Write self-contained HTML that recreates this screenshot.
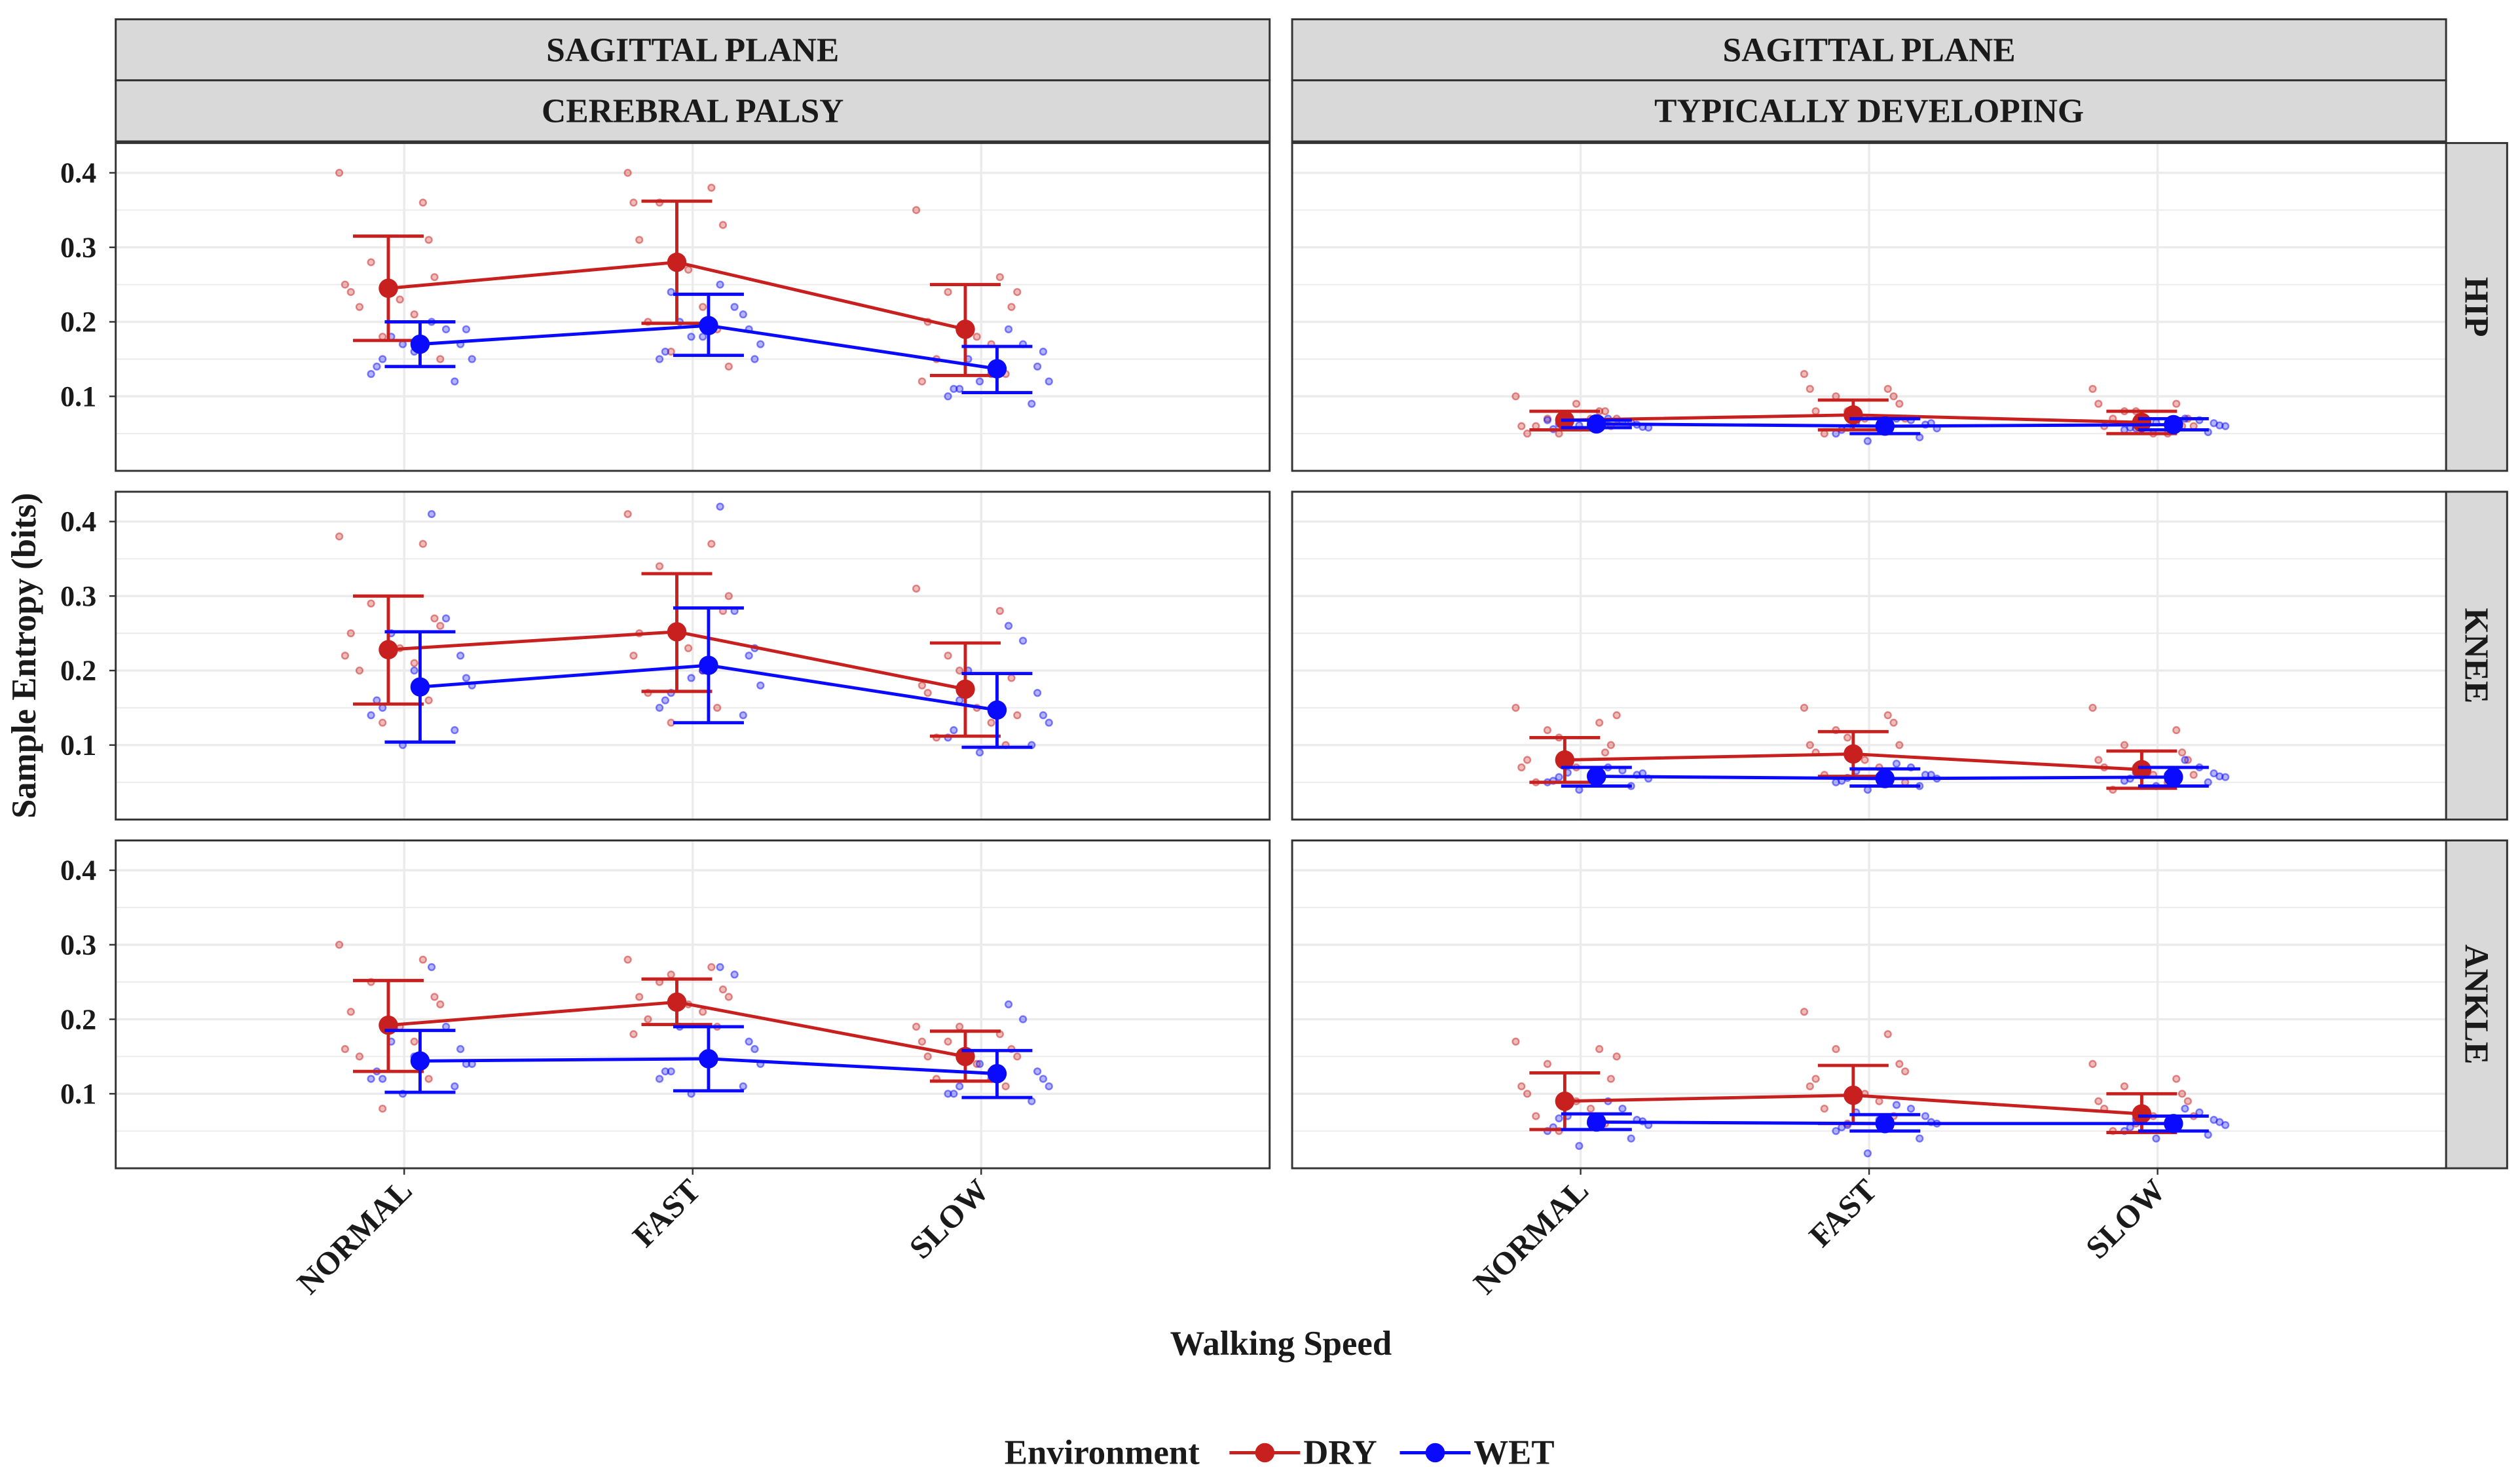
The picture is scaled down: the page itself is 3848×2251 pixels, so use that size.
<!DOCTYPE html>
<html><head><meta charset="utf-8"><style>
html,body{margin:0;padding:0;background:#fff;}
svg{display:block;}
text{font-family:"Liberation Serif",serif;font-weight:bold;fill:#1a1a1a;}
</style></head><body>
<svg id="chart" width="3848" height="2251" viewBox="0 0 1568 917.25" xmlns="http://www.w3.org/2000/svg">
<g id="g"></g>
</svg>
<script>
const categories = ["NORMAL","FAST","SLOW"];
const colLabels = ["CEREBRAL PALSY","TYPICALLY DEVELOPING"];
const rowLabels = ["HIP","KNEE","ANKLE"];
const yTicks = [0.1,0.2,0.3,0.4];
// panel order: [row][col]
const dryMean = [[[0.245,0.280,0.190],[0.068,0.075,0.065]],[[0.228,0.252,0.175],[0.080,0.088,0.067]],[[0.192,0.223,0.150],[0.090,0.098,0.073]]];
const dryLo   = [[[0.175,0.198,0.128],[0.055,0.055,0.050]],[[0.155,0.172,0.112],[0.050,0.058,0.042]],[[0.130,0.193,0.117],[0.052,0.060,0.048]]];
const dryHi   = [[[0.315,0.362,0.250],[0.080,0.095,0.080]],[[0.300,0.330,0.237],[0.110,0.118,0.092]],[[0.252,0.254,0.184],[0.128,0.138,0.100]]];
const wetMean = [[[0.170,0.195,0.137],[0.063,0.060,0.062]],[[0.178,0.207,0.147],[0.058,0.055,0.057]],[[0.144,0.147,0.127],[0.062,0.060,0.060]]];
const wetLo   = [[[0.140,0.155,0.105],[0.058,0.050,0.055]],[[0.104,0.130,0.097],[0.045,0.045,0.045]],[[0.102,0.104,0.095],[0.052,0.050,0.050]]];
const wetHi   = [[[0.200,0.237,0.167],[0.068,0.070,0.070]],[[0.252,0.284,0.196],[0.070,0.068,0.070]],[[0.185,0.190,0.158],[0.073,0.072,0.070]]];
const dryPts = [
 [[[0.40,0.36,0.28,0.26,0.24,0.23,0.21,0.22,0.31,0.18,0.15,0.25],[0.40,0.38,0.36,0.33,0.31,0.27,0.22,0.20,0.19,0.16,0.14,0.36],[0.35,0.26,0.24,0.22,0.20,0.18,0.17,0.15,0.13,0.19,0.24,0.12]],
  [[0.10,0.08,0.07,0.06,0.05,0.09,0.07,0.06,0.08,0.05,0.07,0.06],[0.13,0.11,0.10,0.09,0.08,0.07,0.06,0.05,0.10,0.08,0.07,0.11],[0.11,0.09,0.08,0.07,0.06,0.05,0.05,0.07,0.06,0.08,0.06,0.09]]],
 [[[0.38,0.37,0.29,0.27,0.25,0.23,0.21,0.20,0.16,0.13,0.26,0.22],[0.41,0.37,0.34,0.28,0.25,0.23,0.20,0.17,0.15,0.13,0.30,0.22],[0.31,0.28,0.22,0.19,0.17,0.15,0.13,0.11,0.10,0.20,0.14,0.18]],
  [[0.15,0.13,0.12,0.10,0.08,0.07,0.06,0.05,0.09,0.11,0.14,0.07],[0.15,0.14,0.12,0.10,0.09,0.08,0.07,0.06,0.13,0.11,0.05,0.10],[0.15,0.12,0.10,0.08,0.07,0.06,0.05,0.04,0.09,0.07,0.06,0.08]]],
 [[[0.30,0.28,0.25,0.23,0.21,0.19,0.17,0.15,0.12,0.08,0.22,0.16],[0.28,0.27,0.25,0.24,0.23,0.22,0.21,0.20,0.19,0.26,0.23,0.18],[0.19,0.18,0.17,0.16,0.15,0.14,0.13,0.12,0.11,0.19,0.15,0.17]],
  [[0.17,0.16,0.14,0.12,0.10,0.09,0.08,0.07,0.06,0.05,0.15,0.11],[0.21,0.18,0.16,0.14,0.12,0.10,0.09,0.08,0.07,0.06,0.13,0.11],[0.14,0.12,0.11,0.09,0.08,0.07,0.06,0.05,0.10,0.06,0.07,0.09]]]
];
const wetPts = [
 [[[0.20,0.19,0.18,0.17,0.16,0.15,0.14,0.13,0.12,0.17,0.19,0.15],[0.25,0.22,0.20,0.19,0.18,0.17,0.16,0.15,0.21,0.18,0.15,0.24],[0.19,0.17,0.15,0.14,0.13,0.12,0.11,0.10,0.09,0.12,0.16,0.11]],
  [[0.07,0.066,0.064,0.062,0.06,0.058,0.056,0.068,0.065,0.061,0.059,0.063],[0.07,0.068,0.065,0.062,0.06,0.057,0.055,0.05,0.045,0.04,0.064,0.058],[0.07,0.068,0.066,0.064,0.062,0.06,0.058,0.055,0.052,0.065,0.061,0.057]]],
 [[[0.41,0.27,0.25,0.22,0.20,0.18,0.16,0.14,0.12,0.10,0.19,0.15],[0.42,0.28,0.25,0.22,0.20,0.18,0.16,0.15,0.14,0.19,0.23,0.17],[0.26,0.24,0.20,0.17,0.15,0.13,0.12,0.11,0.10,0.09,0.14,0.16]],
  [[0.07,0.066,0.063,0.06,0.058,0.055,0.052,0.05,0.045,0.04,0.062,0.057],[0.075,0.07,0.065,0.06,0.058,0.055,0.052,0.05,0.045,0.04,0.06,0.056],[0.08,0.07,0.065,0.062,0.06,0.057,0.055,0.052,0.05,0.045,0.058,0.063]]],
 [[[0.27,0.19,0.17,0.16,0.15,0.14,0.13,0.12,0.11,0.10,0.14,0.12],[0.27,0.26,0.19,0.17,0.15,0.14,0.13,0.12,0.11,0.10,0.16,0.13],[0.22,0.20,0.15,0.13,0.12,0.11,0.10,0.10,0.09,0.14,0.12,0.11]],
  [[0.09,0.08,0.07,0.065,0.06,0.058,0.055,0.05,0.04,0.03,0.063,0.067],[0.085,0.08,0.075,0.07,0.065,0.06,0.055,0.05,0.04,0.02,0.062,0.058],[0.08,0.075,0.07,0.065,0.06,0.058,0.055,0.05,0.045,0.04,0.062,0.066]]]
];
const jit = [-0.17,0.12,-0.06,0.16,-0.13,0.04,0.09,-0.1,0.14,-0.02,0.18,-0.15];

const NS="http://www.w3.org/2000/svg";
const G=document.getElementById('g');
function mk(tag,attrs,parent){const e=document.createElementNS(NS,tag);for(const k in attrs)e.setAttribute(k,attrs[k]);(parent||G).appendChild(e);return e;}
const colX=[72,804], panelW=718;
const rowY=[89,306,523], panelH=204;
const RED="#c8201e", BLUE="#0a0aff";
function xs(c,pos){return colX[c]+pos/4*panelW;}
function ys(r,v){return rowY[r]+panelH-v/0.44*panelH;}

for(let c=0;c<2;c++){
  let s=mk('rect',{x:colX[c],y:12,width:panelW,height:38,fill:'#d9d9d9',stroke:'#333','stroke-width':1.2});
  
  let t=mk('text',{x:colX[c]+panelW/2,y:38,'text-anchor':'middle','font-size':21});t.textContent='SAGITTAL PLANE';
  
  let s2=mk('rect',{x:colX[c],y:50,width:panelW,height:38,fill:'#d9d9d9',stroke:'#333','stroke-width':1.2});
  
  let t2=mk('text',{x:colX[c]+panelW/2,y:76,'text-anchor':'middle','font-size':21});t2.textContent=colLabels[c];
  
}
for(let r=0;r<3;r++){
  let s=mk('rect',{x:1522,y:rowY[r],width:38,height:panelH,fill:'#d9d9d9',stroke:'#333','stroke-width':1.2});
  
  let cy=rowY[r]+panelH/2;
  let t=mk('text',{x:1534,y:cy,'text-anchor':'middle','font-size':21,transform:`rotate(90 1534 ${cy})`});t.textContent=rowLabels[r];
  
}
for(let r=0;r<3;r++)for(let c=0;c<2;c++){
  const pg=mk('g',{});
  
  
  mk('rect',{x:colX[c],y:rowY[r],width:panelW,height:panelH,fill:'#fff'},pg);
  for(let v=0.05;v<0.44;v+=0.05){mk('line',{x1:colX[c],x2:colX[c]+panelW,y1:ys(r,v),y2:ys(r,v),stroke:'#ebebeb','stroke-width':Math.round(v*100)%10===0?1.4:0.8},pg);}
  for(let i=0;i<3;i++){mk('line',{x1:xs(c,i+1),x2:xs(c,i+1),y1:rowY[r],y2:rowY[r]+panelH,stroke:'#ebebeb','stroke-width':1.4},pg);}
  for(let i=0;i<3;i++){
    dryPts[r][c][i].forEach((v,k)=>{const p=mk('circle',{cx:xs(c,i+1-0.055+jit[k]),cy:ys(r,v),r:2,fill:RED,'fill-opacity':0.3,stroke:RED,'stroke-opacity':0.5,'stroke-width':1},pg);
      });
    wetPts[r][c][i].forEach((v,k)=>{const p=mk('circle',{cx:xs(c,i+1+0.055+jit[(k+5)%12]),cy:ys(r,v),r:2,fill:BLUE,'fill-opacity':0.3,stroke:BLUE,'stroke-opacity':0.5,'stroke-width':1},pg);
      });
  }
  [[dryMean,dryLo,dryHi,RED,-0.055,'dry'],[wetMean,wetLo,wetHi,BLUE,0.055,'wet']].forEach(([m,lo,hi,col,d,nm])=>{
    const pts=m[r][c].map((v,i)=>xs(c,i+1+d)+','+ys(r,v)).join(' ');
    const pl=mk('polyline',{points:pts,fill:'none',stroke:col,'stroke-width':2},pg);
    
    for(let i=0;i<3;i++){
      const x=xs(c,i+1+d), y1=ys(r,lo[r][c][i]), y2=ys(r,hi[r][c][i]);
      const eb=mk('path',{d:`M${x-22},${y1}H${x+22}M${x-22},${y2}H${x+22}M${x},${y1}V${y2}`,stroke:col,'stroke-width':2,fill:'none'},pg);
      
      const mc=mk('circle',{cx:x,cy:ys(r,m[r][c][i]),r:6,fill:col},pg);
      
    }
  });
  mk('rect',{x:colX[c],y:rowY[r],width:panelW,height:panelH,fill:'none',stroke:'#333','stroke-width':1.2},pg);
  if(c===0){
    yTicks.forEach(v=>{mk('line',{x1:colX[0]-4,x2:colX[0],y1:ys(r,v),y2:ys(r,v),stroke:'#333','stroke-width':1});
      const t=mk('text',{x:colX[0]-12,y:ys(r,v)+6,'text-anchor':'end','font-size':18});t.textContent=v.toFixed(1);
      });
  }
}
for(let c=0;c<2;c++)categories.forEach((cat,i)=>{
  const x=xs(c,i+1);
  mk('line',{x1:x,x2:x,y1:727,y2:731,stroke:'#333','stroke-width':1});
  const t=mk('text',{x:x+6,y:742,'text-anchor':'end','font-size':20,transform:`rotate(-45 ${x+6} 742)`});t.textContent=cat;
  
});
let xt=mk('text',{x:797,y:843,'text-anchor':'middle','font-size':21.5});xt.textContent='Walking Speed';

let yt=mk('text',{x:22,y:408,'text-anchor':'middle','font-size':21.5,transform:'rotate(-90 22 408)'});yt.textContent='Sample Entropy (bits)';

let lt=mk('text',{x:625,y:911,'font-size':21.5});lt.textContent='Environment';

[[RED,'DRY',787],[BLUE,'WET',893]].forEach(([col,lab,x])=>{
  const lg=mk('g',{});
  
  
  mk('line',{x1:x-22,x2:x+22,y1:904,y2:904,stroke:col,'stroke-width':2},lg);
  mk('circle',{cx:x,cy:904,r:6,fill:col},lg);
  const t=mk('text',{x:x+24,y:911,'font-size':21.5},lg);t.textContent=lab;
});
</script>
</body></html>
